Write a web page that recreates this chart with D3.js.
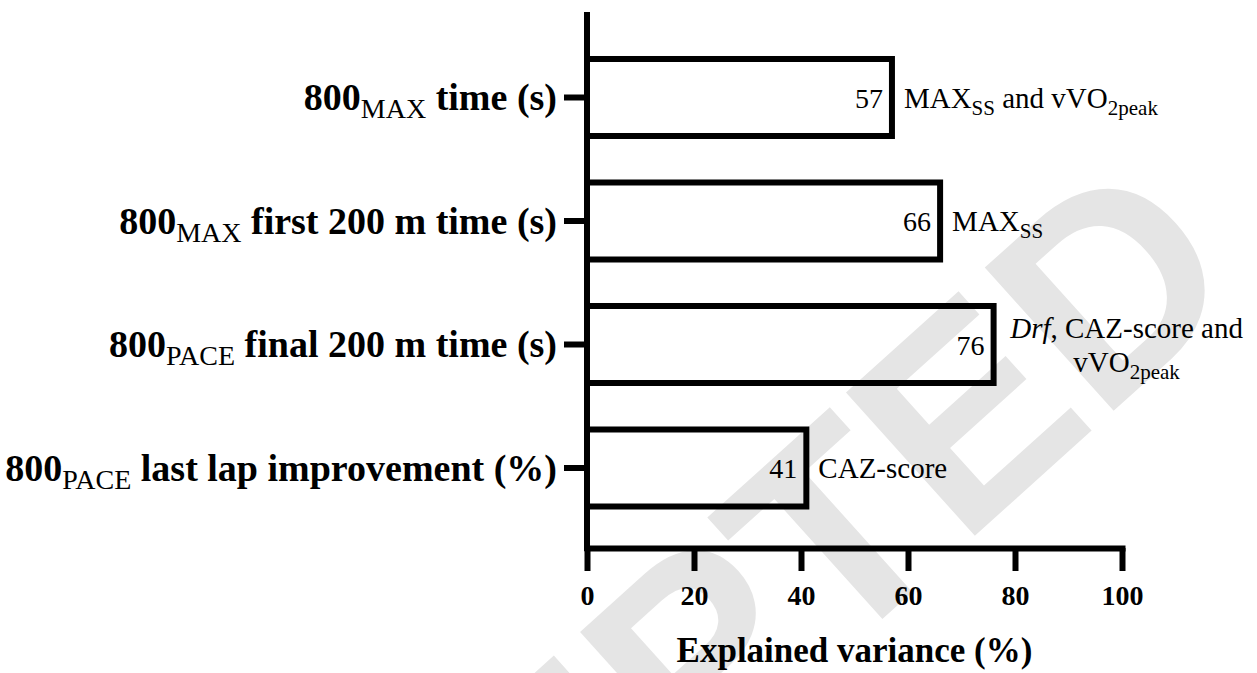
<!DOCTYPE html>
<html>
<head>
<meta charset="utf-8">
<script src="https://cdn.jsdelivr.net/npm/d3@7"></script>
<style>
  html, body { margin: 0; padding: 0; background: #fff; }
  svg { display: block; }
  text { font-family: "Liberation Serif", "Times New Roman", serif; fill: #000; }
</style>
</head>
<body>
<svg id="chart" width="1257" height="673"></svg>
<script>
// Outcome measures (rows). "_{...}" marks a subscript, "*...*" italics.
const categories = [
  "800_{MAX} time (s)",
  "800_{MAX} first 200 m time (s)",
  "800_{PACE} final 200 m time (s)",
  "800_{PACE} last lap improvement (%)"
];
// Explained variance of each regression model (%)
const variance = [57, 66, 76, 41];
// Predictors retained in each model; one entry per printed line
const predictors = [
  ["MAX_{SS} and vVO_{2peak}"],
  ["MAX_{SS}"],
  ["*Drf*, CAZ-score and", "vVO_{2peak}"],
  ["CAZ-score"]
];
const xTicks = [0, 20, 40, 60, 80, 100];
const xDomain = [0, 100];
const xTitle = "Explained variance (%)";
const watermark = "ACCEPTED";

const svg = d3.select("#chart");
const axisX = 587, axisTop = 12, axisY = 548, axisRight = 1122;

const x = d3.scaleLinear().domain(xDomain).range([axisX, axisRight]);
const y = d3.scaleBand().domain(categories).range([35.75, 529.75])
  .paddingInner(0.3765).paddingOuter(0.18825);

// split a marked-up string into plain / subscript / italic pieces
function parseRich(s) {
  return s.split(/(_\{[^}]*\}|\*[^*]*\*)/).filter(p => p.length).map(p => {
    if (p.startsWith("_{")) return { t: p.slice(2, -1), sub: true };
    if (p.startsWith("*")) return { t: p.slice(1, -1), it: true };
    return { t: p };
  });
}

// fill a <text> with tspans; subscripts drop and shrink, then return
function richText(sel, str, opts) {
  const parts = parseRich(str);
  let lowered = false;
  parts.forEach(p => {
    const ts = sel.append("tspan").text(p.t);
    if (p.sub) {
      ts.attr("font-size", opts.subSize).attr("font-weight", "normal");
      if (!lowered) { ts.attr("dy", opts.subShift); lowered = true; }
    } else {
      if (lowered) { ts.attr("dy", -opts.subShift); lowered = false; }
      if (p.it) ts.attr("font-style", "italic");
    }
  });
}

// light diagonal watermark behind the plot
svg.append("text")
  .attr("transform", "translate(1250,288) rotate(-42)")
  .attr("text-anchor", "end")
  .style("font-family", "'Liberation Sans', Arial, sans-serif")
  .style("font-weight", "bold")
  .style("font-size", "280px")
  .style("fill", "#e5e5e5")
  .text(watermark);

// bars
svg.append("g").selectAll("rect")
  .data(categories)
  .join("rect")
  .attr("x", x(0))
  .attr("y", d => y(d))
  .attr("width", (d, i) => x(variance[i]) - x(0))
  .attr("height", y.bandwidth())
  .attr("fill", "none")
  .attr("stroke", "#000")
  .attr("stroke-width", 6);

// y axis
const yAxis = svg.append("g")
  .attr("transform", `translate(${axisX},0)`)
  .call(d3.axisLeft(y).tickSize(23).tickPadding(7));
yAxis.select(".domain").remove();
yAxis.selectAll(".tick line").attr("stroke", "#000").attr("stroke-width", 6);
yAxis.selectAll(".tick text").each(function (d) {
  const t = d3.select(this);
  t.text(null).attr("dy", "0.33em")
    .style("font-family", "'Liberation Serif', 'Times New Roman', serif")
    .style("font-size", "38px").style("font-weight", "bold");
  richText(t, d, { subSize: "28px", subShift: 8 });
});
svg.append("line")
  .attr("x1", axisX).attr("x2", axisX)
  .attr("y1", axisTop).attr("y2", axisY + 3)
  .attr("stroke", "#000").attr("stroke-width", 6);

// x axis
const xAxis = svg.append("g")
  .attr("transform", `translate(0,${axisY})`)
  .call(d3.axisBottom(x).tickValues(xTicks).tickSize(23).tickSizeOuter(0).tickPadding(14));
xAxis.select(".domain").attr("stroke", "#000").attr("stroke-width", 6).attr("stroke-linecap", "square");
xAxis.selectAll(".tick line").attr("stroke", "#000").attr("stroke-width", 6);
xAxis.selectAll(".tick text")
  .style("font-family", "'Liberation Serif', 'Times New Roman', serif")
  .style("font-size", "28px").style("font-weight", "bold");

svg.append("text")
  .attr("x", (axisX + axisRight) / 2)
  .attr("y", 662)
  .attr("text-anchor", "middle")
  .style("font-size", "35px").style("font-weight", "bold")
  .text(xTitle);

// value labels inside bar ends, predictors to the right
categories.forEach((c, i) => {
  const cy = y(c) + y.bandwidth() / 2;
  svg.append("text")
    .attr("x", x(variance[i]) - 9)
    .attr("y", cy + 10)
    .attr("text-anchor", "end")
    .style("font-size", "28px")
    .text(variance[i]);

  const lines = predictors[i];
  if (lines.length === 1) {
    const t = svg.append("text")
      .attr("x", x(variance[i]) + 12)
      .attr("y", cy + 10)
      .style("font-size", "29px");
    richText(t, lines[0], { subSize: "21px", subShift: 7 });
  } else {
    const cx = x(variance[i]) + 133;
    lines.forEach((ln, k) => {
      const t = svg.append("text")
        .attr("x", cx)
        .attr("y", cy - 7 + k * 34)
        .attr("text-anchor", "middle")
        .style("font-size", "29px");
      richText(t, ln, { subSize: "21px", subShift: 7 });
    });
  }
});
</script>
</body>
</html>
